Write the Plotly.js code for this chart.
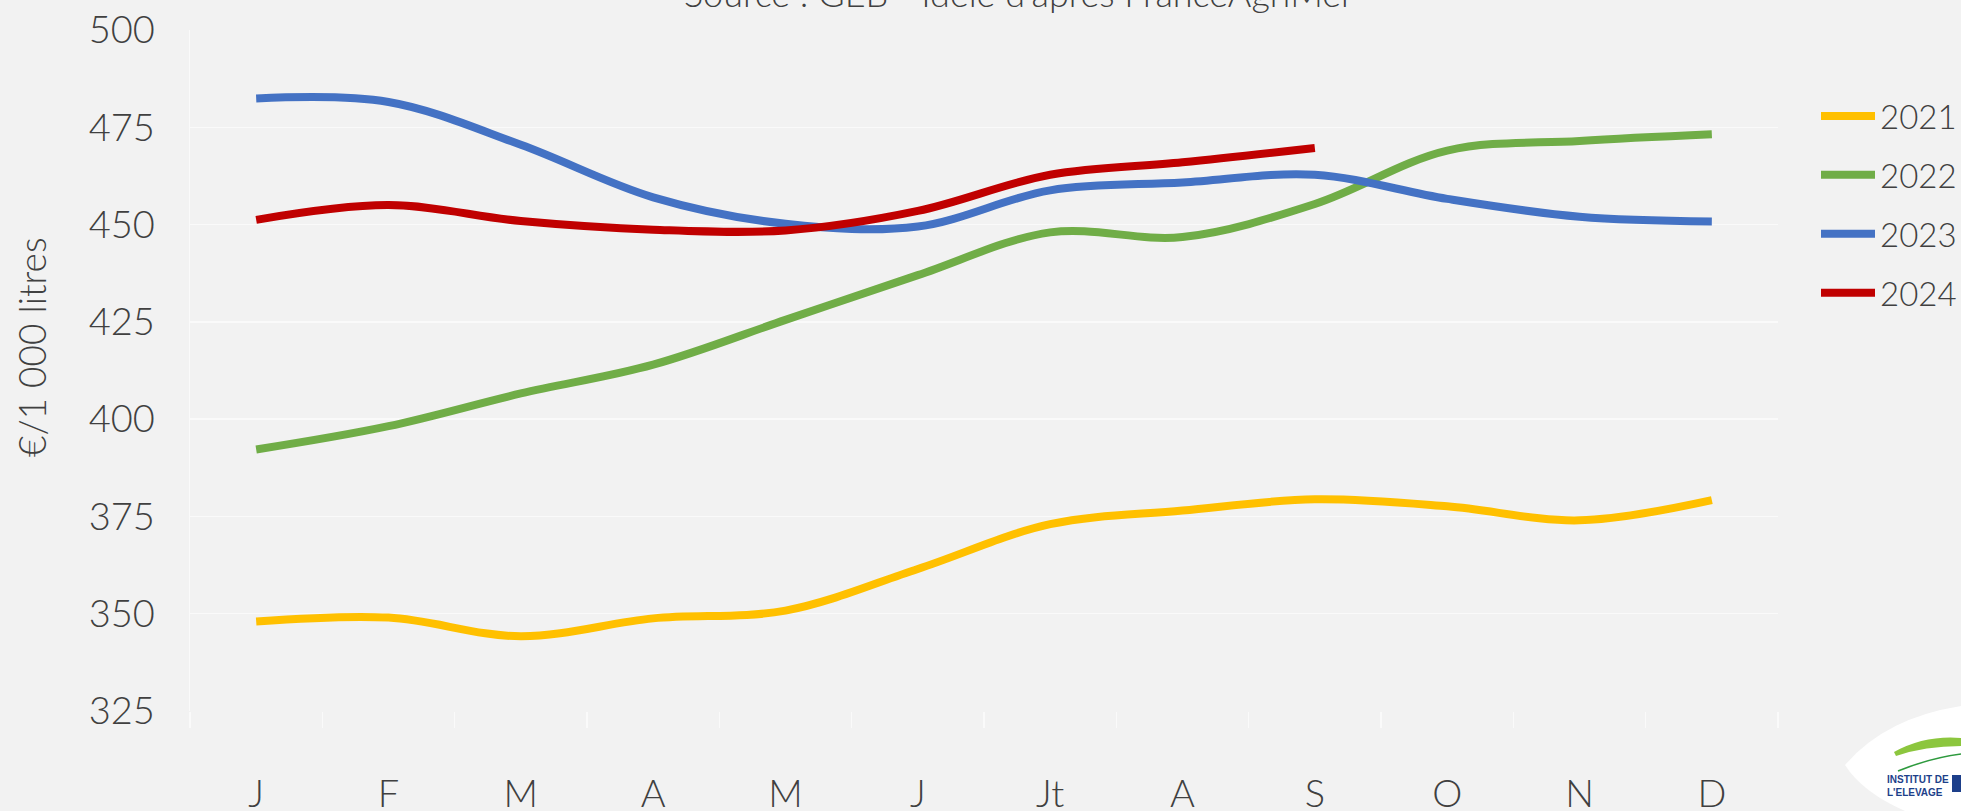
<!DOCTYPE html>
<html>
<head>
<meta charset="utf-8">
<script src="https://cdn.plot.ly/plotly-3.0.1.min.js"></script>
<style>
  html, body { margin: 0; padding: 0; background: #f2f2f2; }
  #chart { width: 1961px; height: 811px; }
</style>
</head>
<body>
<div id="chart"></div>
<script>
// month letters as printed under the axis
var months = ['J', 'F', 'M', 'A', 'M', 'J', 'Jt', 'A', 'S', 'O', 'N', 'D'];
var years = ['2021', '2022', '2023', '2024'];
var colors = ['#FFC000', '#70AD47', '#4472C4', '#C00000'];

// €/1 000 litres
var y2021 = [348.0, 349.0, 344.2, 348.8, 350.8, 361.5, 373.0, 376.5, 379.4, 377.6, 374.0, 379.2];
var y2022 = [392.2, 398.2, 406.6, 414.0, 425.5, 437.0, 448.0, 446.8, 455.3, 469.0, 471.5, 473.2];
var y2023 = [482.4, 481.5, 470.5, 457.0, 450.2, 449.5, 458.8, 460.8, 462.8, 456.6, 452.0, 450.8];
var y2024 = [451.2, 455.0, 450.9, 448.7, 448.5, 453.5, 462.8, 466.0, 469.7];

var series = [y2021, y2022, y2023, y2024];
var monthIdx = months.map(function (m, i) { return i; });
var boundaries = months.map(function (m, i) { return i - 0.5; }).concat([months.length - 0.5]);

var font = "Lato, 'Open Sans', sans-serif";
var textColor = '#404040';
var gridColor = '#fafafa';

var traces = series.map(function (vals, k) {
    return {
        x: monthIdx.slice(0, vals.length),
        y: vals,
        name: years[k],
        type: 'scatter',
        mode: 'lines',
        line: { color: colors[k], width: 8, shape: 'spline', smoothing: 1 },
        legendgroup: years[k],
        hoverinfo: 'skip'
    };
});

// plot area in pixels, used only to place the decorations
var L = 190, R = 1778, T = 30, B = 711;
function px(x) { return (x - L) / (R - L); }
function py(y) { return (B - y) / (B - T); }

var layout = {
    width: 1961,
    height: 811,
    margin: { l: L, r: 1961 - R, t: T, b: 811 - B, autoexpand: false },
    paper_bgcolor: '#f2f2f2',
    plot_bgcolor: '#f2f2f2',
    font: { family: font, color: textColor, weight: 300 },
    showlegend: true,
    legend: {
        x: px(1816), xanchor: 'left',
        y: py(88), yanchor: 'top',
        bgcolor: 'rgba(0,0,0,0)',
        font: { size: 33, family: font, color: textColor, weight: 300 },
        traceorder: 'grouped',
        tracegroupgap: 13,
        itemwidth: 54
    },
    xaxis: {
        range: [-0.5, months.length - 0.5],
        tickmode: 'array',
        tickvals: monthIdx,
        ticktext: months,
        ticks: '',
        showgrid: false,
        zeroline: false,
        showline: false,
        tickfont: { size: 38, family: font, color: textColor, weight: 300 },
        ticklabelstandoff: 57,
        minor: {
            tickmode: 'array',
            tickvals: boundaries,
            ticks: 'outside',
            ticklen: 16,
            tickwidth: 1.5,
            tickcolor: gridColor,
            showgrid: false
        },
        fixedrange: true
    },
    yaxis: {
        range: [325, 500],
        dtick: 25,
        tick0: 325,
        ticks: '',
        showgrid: true,
        gridcolor: gridColor,
        gridwidth: 1.5,
        zeroline: false,
        showline: true,
        linecolor: gridColor,
        linewidth: 1.5,
        tickfont: { size: 38, family: font, color: textColor, weight: 300 },
        ticklabelstandoff: 26,
        fixedrange: true
    },
    annotations: [
        {
            text: "Source : GEB - Idele d'après FranceAgriMer",
            xref: 'paper', yref: 'paper',
            x: px(1019), y: py(17),
            xanchor: 'center', yanchor: 'bottom',
            showarrow: false,
            font: { size: 36, family: font, color: textColor, weight: 300 }
        },
        {
            text: '€/1 000 litres',
            xref: 'paper', yref: 'paper',
            x: px(32), y: py(347),
            xanchor: 'center', yanchor: 'middle',
            textangle: -90,
            showarrow: false,
            font: { size: 37, family: font, color: textColor, weight: 300 }
        },
        {
            text: "<b>INSTITUT DE<br>L'ELEVAGE</b>",
            xref: 'paper', yref: 'paper',
            x: px(1918), y: py(786),
            xanchor: 'center', yanchor: 'middle',
            align: 'left',
            showarrow: false,
            font: { size: 10, family: 'Liberation Sans', color: '#1d3f8a' }
        }
    ],
    shapes: [
        {
            type: 'path', xref: 'paper', yref: 'paper', layer: 'above',
            path: 'M' + px(1845) + ',' + py(765) +
                  ' Q' + px(1885) + ',' + py(718) + ' ' + px(1961) + ',' + py(706) +
                  ' L' + px(1961) + ',' + py(811) +
                  ' L' + px(1905) + ',' + py(811) +
                  ' Q' + px(1862) + ',' + py(792) + ' ' + px(1845) + ',' + py(765) + ' Z',
            fillcolor: '#ffffff', line: { width: 0 }
        },
        {
            type: 'path', xref: 'paper', yref: 'paper', layer: 'above',
            path: 'M' + px(1894) + ',' + py(752) +
                  ' Q' + px(1925) + ',' + py(735) + ' ' + px(1961) + ',' + py(738) +
                  ' L' + px(1961) + ',' + py(746) +
                  ' Q' + px(1925) + ',' + py(746) + ' ' + px(1896) + ',' + py(756) + ' Z',
            fillcolor: '#8cc63e', line: { width: 0 }
        },
        {
            type: 'path', xref: 'paper', yref: 'paper', layer: 'above',
            path: 'M' + px(1898) + ',' + py(771) +
                  ' Q' + px(1930) + ',' + py(758) + ' ' + px(1961) + ',' + py(754),
            line: { color: '#2e9a3e', width: 1.5 }
        },
        {
            type: 'rect', xref: 'paper', yref: 'paper', layer: 'above',
            x0: px(1952), x1: px(1961), y0: py(792), y1: py(775),
            fillcolor: '#1d3f8a', line: { width: 0 }
        }
    ]
};

Plotly.newPlot('chart', traces, layout, { displayModeBar: false, staticPlot: true });
</script>
</body>
</html>
